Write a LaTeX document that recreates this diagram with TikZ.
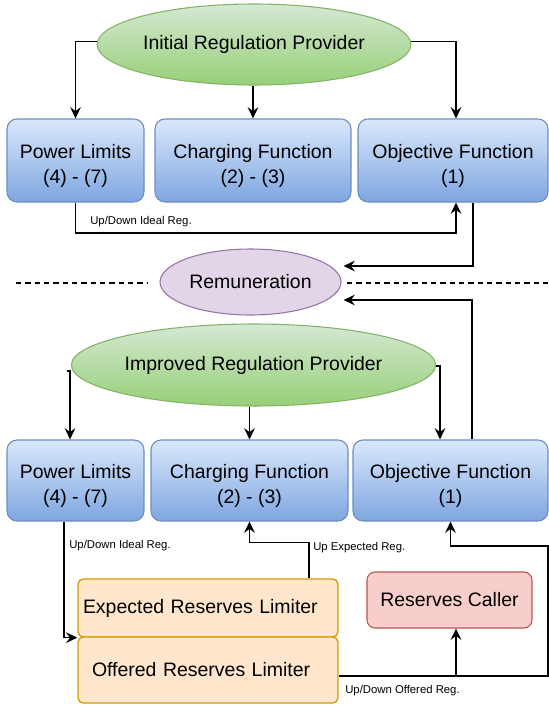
\documentclass[tikz,border=0pt]{standalone}
\usepackage{fontspec}
\setmainfont{Liberation Sans}
\usetikzlibrary{arrows.meta,calc,shapes.geometric}
\definecolor{bluetop}{HTML}{DAE8FC}
\definecolor{bluebot}{HTML}{7EA6E0}
\definecolor{bluestroke}{HTML}{6C8EBF}
\definecolor{greentop}{HTML}{D5E8D4}
\definecolor{greenbot}{HTML}{97D077}
\definecolor{greenstroke}{HTML}{82B366}
\definecolor{purplefill}{HTML}{E1D5E7}
\definecolor{purplestroke}{HTML}{9673A6}
\definecolor{orangefill}{HTML}{FFE6CC}
\definecolor{orangestroke}{HTML}{D79B00}
\definecolor{redfill}{HTML}{F8CECC}
\definecolor{redstroke}{HTML}{B85450}
\newcommand{\lowstrut}{\rule{0pt}{18.5pt}}
\tikzset{
  mainfont/.style={font=\fontsize{14.6}{18.8}\selectfont},
  smallfont/.style={font=\fontsize{8.5}{10}\selectfont},
  bluebox/.style={draw=bluestroke, line width=0.8pt, top color=bluetop, bottom color=bluebot,
    rounded corners=7.5pt, align=center, mainfont, inner sep=0pt},
  greenell/.style={ellipse, draw=greenstroke, line width=0.8pt, top color=greentop, bottom color=greenbot,
    mainfont, inner sep=0pt},
  purpleell/.style={ellipse, draw=purplestroke, line width=0.8pt, fill=purplefill, mainfont, inner sep=0pt},
  orangebox/.style={draw=orangestroke, line width=1pt, fill=orangefill, rounded corners=4pt,
    align=left, mainfont, inner ysep=0pt},
  redbox/.style={draw=redstroke, line width=0.8pt, fill=redfill, rounded corners=6pt, align=center,
    mainfont, inner sep=0pt},
  arr/.style={draw=black, line width=1.2pt, -{Stealth[length=8.5pt,width=8pt,inset=3pt]}},
  lbl/.style={smallfont, anchor=west, inner sep=0pt},
  sep/.style={draw=black, line width=0.8pt, dash pattern=on 4pt off 3pt}
}
\begin{document}
\begin{tikzpicture}[x=0.75pt,y=-0.75pt]
\useasboundingbox (0,0) rectangle (549,707);

% top section
\node[greenell, minimum width=234.75pt, minimum height=60.75pt] (e1) at (254,44.5) {\raisebox{-2pt}{Initial Regulation Provider}};
\node[bluebox, minimum width=102.75pt, minimum height=62.25pt] (pl1) at (75.5,160.5) {\lowstrut Power Limits\\(4) - (7)};
\node[bluebox, minimum width=147pt, minimum height=62.25pt] (cf1) at (253,160.5) {\lowstrut Charging Function\\(2) - (3)};
\node[bluebox, minimum width=142.5pt, minimum height=62.25pt] (of1) at (453,160.5) {\lowstrut Objective Function\\(1)};

\draw[arr] ($(e1.west)+(0,-3)$) -| (pl1.north);
\draw[arr] (cf1.north |- e1.south) -- (cf1.north);
\draw[arr] ($(e1.east)+(0,-3)$) -| ($(of1.north)+(3,0)$);

\coordinate (c1) at (75.5,233);
\draw[arr] (pl1.south) -- (c1) -| ($(of1.south)+(3,0)$);
\node[lbl] (l1) at (90,222) {Up/Down Ideal Reg.};

% remuneration
\node[purpleell, minimum width=135.75pt, minimum height=49.5pt] (rem) at (250.5,282) {\raisebox{-1pt}{Remuneration}};
\draw[arr] ($(of1.south)+(20,0)$) |- ($(rem.east)+(2,-16)$);

\coordinate (d1) at (16,283);
\coordinate (d2) at (147,283);
\coordinate (d3) at (347,283);
\coordinate (d4) at (549,283);
\draw[sep] (d1) -- (d2);
\draw[sep] (d3) -- (d4);

% bottom section
\node[greenell, minimum width=227.25pt, minimum height=61.5pt] (e2) at (253.5,365) {\raisebox{-1pt}{Improved Regulation Provider}};
\node[bluebox, minimum width=102.75pt, minimum height=60.75pt] (pl2) at (75.5,480.5) {\lowstrut Power Limits\\(4) - (7)};
\node[bluebox, minimum width=147.75pt, minimum height=60.75pt] (cf2) at (249.5,480.5) {\lowstrut Charging Function\\(2) - (3)};
\node[bluebox, minimum width=146.25pt, minimum height=60.75pt] (of2) at (450.5,480.5) {\lowstrut Objective Function\\(1)};

\draw[arr] ($(e2.west)+(-4,6)$) -| ($(pl2.north)+(-5.5,0)$);
\draw[arr] (cf2.north |- e2.south) -- (cf2.north);
\draw[arr] ($(e2.east)+(0,1)$) -| ($(of2.north)+(-10.5,0)$);

\draw[arr] ($(of2.north)+(21.5,0)$) |- ($(rem.east)+(2,18)$);

\node[orangebox, text width=187.5pt, inner xsep=3.75pt, minimum height=43.5pt] (exp) at (208,608) {Expected Reserves Limiter};
\node[orangebox, text width=174pt, inner xsep=10.5pt, minimum height=49.5pt] (off) at (208,670) {Offered Reserves Limiter};
\node[redbox, minimum width=123.75pt, minimum height=42pt] (rc) at (449.5,600) {Reserves Caller};

\draw[arr] ($(pl2.south)+(-11.5,0)$) |- (exp.south west);
\node[lbl] (l2) at (69,546) {Up/Down Ideal Reg.};

\draw[arr] ($(exp.north)+(101,0)$) -- ++(0,-36) -| (cf2.south);
\node[lbl] (l3) at (313,548) {Up Expected Reg.};

\coordinate (r1) at (548,546);
\coordinate (b1) at (456,676);
\draw[arr] ($(off.east)+(0,6)$) -| (r1) -| (of2.south);
\draw[arr] (b1) -- (b1 |- rc.south);
\node[lbl] (l4) at (345,691) {Up/Down Offered Reg.};
\end{tikzpicture}
\end{document}
